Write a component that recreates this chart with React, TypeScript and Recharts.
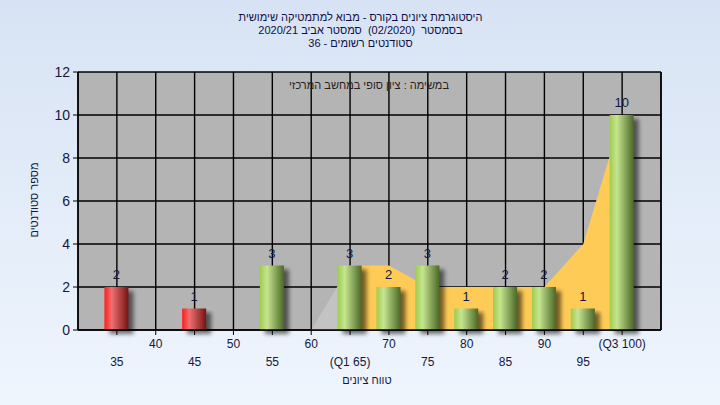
import {
  Area,
  Bar,
  CartesianGrid,
  ComposedChart,
  LabelList,
  XAxis,
  YAxis,
} from "recharts";

// grade buckets on the x axis and how many students landed in each
const grades = [35, 45, 55, 60, 65, 70, 75, 80, 85, 90, 95, 100];
const students = [2, 1, 3, null, 3, 2, 3, 1, 2, 2, 1, 10];
// background trend band: grey lead-in, then the yellow band
const leadIn = [null, null, null, 0, 3, null, null, null, null, null, null, null];
const band = [null, null, null, null, 3, 3, 2, 2, 2, 2, 4, 10];

const xTicks = [35, 40, 45, 50, 55, 60, 65, 70, 75, 80, 85, 90, 95, 100];
const xTickLabels = ["35", "40", "45", "50", "55", "60", "(Q1 65)", "70", "75", "80", "85", "90", "95", "(Q3 100)"];
const yTicks = [0, 2, 4, 6, 8, 10, 12];

const passMark = 55;

const titleLines = [
  "היסטוגרמת ציונים בקורס - מבוא למתמטיקה שימושית",
  "בסמסטר  (02/2020)  סמסטר אביב 2020/21",
  "סטודנטים רשומים - 36",
];
const subtitle = "במשימה : ציון סופי במחשב המרכזי";
const xTitle = "טווח ציונים";
const yTitle = "מספר סטודנטים";

const data = grades.map((grade, i) => ({
  grade,
  students: students[i],
  leadIn: leadIn[i],
  band: band[i],
}));

const FONT = "'Liberation Sans', Arial, sans-serif";
const INK = "#14183f";

function CylinderBar(props: any) {
  const { x, y, width, height, payload } = props;
  if (!height || height <= 0) return null;
  const fill = payload.grade < passMark ? "url(#barRed)" : "url(#barGreen)";
  return (
    <g>
      <rect
        x={x + 5}
        y={y + 4}
        width={width}
        height={height}
        fill="rgba(0,0,0,0.55)"
        filter="url(#barShadow)"
      />
      <rect x={x} y={y} width={width} height={height} fill={fill} />
    </g>
  );
}

function GradeTick({ x, y, payload }: any) {
  const v = payload.value;
  const idx = xTicks.indexOf(v);
  const upperRow = v % 10 === 0;
  return (
    <text
      x={x}
      y={y + (upperRow ? 8 : 26)}
      textAnchor="middle"
      dominantBaseline="middle"
      fontSize={12}
      fontFamily={FONT}
      fill={INK}
    >
      {xTickLabels[idx]}
    </text>
  );
}

function CountLabel({ x, y, width, value }: any) {
  if (value == null) return null;
  return (
    <text
      x={x + width / 2}
      y={y - 11}
      textAnchor="middle"
      dominantBaseline="middle"
      fontSize={13}
      fontFamily={FONT}
      fill={INK}
    >
      {value}
    </text>
  );
}

export default function App() {
  const yTickStyle = { fill: INK, fontSize: 14, fontFamily: FONT };
  return (
    <div
      style={{
        position: "relative",
        width: 720,
        height: 405,
        background: "linear-gradient(#d7e3f4, #eff5fd)",
        fontFamily: FONT,
        color: INK,
      }}
    >
      <style>{"body{margin:0}"}</style>
      <div
        dir="rtl"
        style={{
          position: "absolute",
          top: 11,
          left: 0,
          width: 721,
          textAlign: "center",
          fontSize: 11,
          lineHeight: "13px",
          whiteSpace: "pre",
          color: "#120f45",
        }}
      >
        {titleLines.map((line) => (
          <div key={line}>{line}</div>
        ))}
      </div>

      <ComposedChart
        width={720}
        height={405}
        data={data}
        margin={{ top: 72, right: 0, bottom: 0, left: 0 }}
        style={{ position: "absolute", top: 0, left: 0 }}
      >
        <defs>
          <linearGradient id="barRed" x1="0" y1="0" x2="1" y2="0">
            <stop offset="0%" stopColor="#ff1c1c" />
            <stop offset="30%" stopColor="#ef6f6f" />
            <stop offset="100%" stopColor="#751414" />
          </linearGradient>
          <linearGradient id="barGreen" x1="0" y1="0" x2="1" y2="0">
            <stop offset="0%" stopColor="#9fcb4c" />
            <stop offset="30%" stopColor="#c6e591" />
            <stop offset="100%" stopColor="#4b6826" />
          </linearGradient>
          <filter id="barShadow" x="-50%" y="-10%" width="200%" height="130%">
            <feGaussianBlur stdDeviation="2.2" />
          </filter>
        </defs>
        <CartesianGrid
          yAxisId="left"
          stroke="#000"
          strokeWidth={1.4}
          fill="#b4b4b4"
          fillOpacity={1}
        />
        <XAxis
          dataKey="grade"
          type="number"
          domain={[30, 105]}
          ticks={xTicks}
          interval={0}
          height={75}
          tickSize={5}
          tickMargin={2}
          tick={<GradeTick />}
          axisLine={{ stroke: "#000", strokeWidth: 1.4 }}
          tickLine={{ stroke: "#000" }}
        />
        <YAxis
          yAxisId="left"
          orientation="left"
          width={78}
          domain={[0, 12]}
          ticks={yTicks}
          interval={0}
          tickSize={5}
          tickMargin={3}
          tick={yTickStyle}
          axisLine={{ stroke: "#000", strokeWidth: 1.4 }}
          tickLine={{ stroke: "#000" }}
        />
        <YAxis
          yAxisId="right"
          orientation="right"
          width={59}
          domain={[0, 12]}
          ticks={yTicks}
          interval={0}
          tickSize={6}
          tickMargin={4}
          tick={yTickStyle}
          axisLine={{ stroke: "#000", strokeWidth: 1.4 }}
          tickLine={{ stroke: "#000" }}
        />
        <Area
          yAxisId="left"
          type="linear"
          dataKey="leadIn"
          stroke="none"
          fill="#c3c3c3"
          fillOpacity={1}
          isAnimationActive={false}
        />
        <Area
          yAxisId="left"
          type="linear"
          dataKey="band"
          stroke="none"
          fill="#fecb56"
          fillOpacity={1}
          isAnimationActive={false}
        />
        <Bar
          yAxisId="left"
          dataKey="students"
          barSize={24}
          shape={<CylinderBar />}
          isAnimationActive={false}
        >
          <LabelList dataKey="students" content={<CountLabel />} />
        </Bar>
      </ComposedChart>

      <div
        dir="rtl"
        style={{
          position: "absolute",
          top: 79,
          left: 0,
          width: 738,
          textAlign: "center",
          fontSize: 11,
          color: "#2a2018",
        }}
      >
        {subtitle}
      </div>
      <div
        dir="rtl"
        style={{
          position: "absolute",
          top: 374,
          left: 0,
          width: 734,
          textAlign: "center",
          fontSize: 11,
        }}
      >
        {xTitle}
      </div>
      <div
        dir="rtl"
        style={{
          position: "absolute",
          left: 34,
          top: 200,
          transform: "translate(-50%, -50%) rotate(-90deg)",
          fontSize: 11,
          whiteSpace: "nowrap",
        }}
      >
        {yTitle}
      </div>
    </div>
  );
}
